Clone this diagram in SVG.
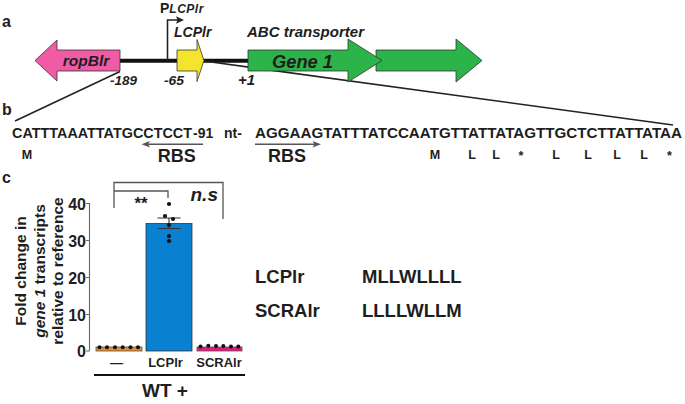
<svg xmlns="http://www.w3.org/2000/svg" width="685" height="404" viewBox="0 0 685 404">
<defs>
<style>
text{font-family:"Liberation Sans",Arial,sans-serif;fill:#1e1e1e;font-weight:bold}
.it{font-style:italic}
.gene{stroke:#333;stroke-width:0.8}
.thin{stroke:#222;stroke-width:1.6;fill:none}
.brk{stroke:#555;stroke-width:1.3;fill:none}
.ax{stroke:#666;stroke-width:1.1;fill:none}
.dot{fill:#111}
.rbs{stroke:#555;stroke-width:1.5;fill:none}
</style>
</defs>
<rect width="685" height="404" fill="#fff"/>

<!-- panel labels -->
<text x="2" y="27" font-size="16">a</text>
<text x="2" y="115" font-size="16">b</text>
<text x="2" y="183" font-size="16">c</text>

<!-- connectors / lines -->
<g id="connectors">
  <line x1="120" y1="60.8" x2="248" y2="60.8" stroke="#111" stroke-width="4"/>
  <path class="thin" d="M167.5,60.8 V20 H178"/>
  <polygon points="184,20 176,16.3 177.5,20 176,23.7" fill="#222"/>
  <line class="thin" x1="120" y1="71.5" x2="15" y2="121"/>
  <line class="thin" x1="204" y1="61" x2="673" y2="125"/>
  <path class="rbs" d="M203,144.3 H147"/>
  <polygon points="141.5,144.3 150,141 148,144.3 150,147.6" fill="#555"/>
  <path class="rbs" d="M255,144.3 H315"/>
  <polygon points="321,144.3 312.5,141 314.5,144.3 312.5,147.6" fill="#555"/>
</g>

<!-- panel a genes -->
<g id="ropBlr">
  <polygon class="gene" fill="#ef5ba4" points="120,50 57,50 57,40 35,60.5 57,81 57,71 120,71"/>
  <text class="it" x="86" y="65.5" font-size="15.5" text-anchor="middle">ropBlr</text>
</g>
<g id="promoter">
  <text x="160" y="12.5" font-size="14">P<tspan class="it" font-size="12" dy="0.5" textLength="34" lengthAdjust="spacing">LCPlr</tspan></text>
</g>
<g id="LCPlr">
  <polygon class="gene" fill="#f4e42e" points="177,50 197,50 197,39.5 204,60.5 197,81.5 197,71 177,71"/>
  <text class="it" x="174" y="36.5" font-size="14" textLength="37.5" lengthAdjust="spacingAndGlyphs">LCPlr</text>
</g>
<g id="gene2">
  <polygon class="gene" fill="#2cb34a" points="376,50 456,50 456,39 482,60.5 456,82 456,71 376,71"/>
</g>
<g id="gene1">
  <polygon class="gene" fill="#2cb34a" points="248,50 348,50 348,39 382,60.5 348,82 348,71 248,71"/>
  <text class="it" x="272" y="67.5" font-size="19" textLength="61" lengthAdjust="spacingAndGlyphs">Gene 1</text>
  <text class="it" x="247" y="36.5" font-size="14.5" textLength="117" lengthAdjust="spacingAndGlyphs">ABC transporter</text>
</g>
<g id="coords">
  <text class="it" x="110" y="85" font-size="13.5" textLength="27" lengthAdjust="spacingAndGlyphs">-189</text>
  <text class="it" x="164" y="85" font-size="13.5" textLength="20" lengthAdjust="spacingAndGlyphs">-65</text>
  <text class="it" x="238" y="85" font-size="14" textLength="17" lengthAdjust="spacingAndGlyphs">+1</text>
</g>

<!-- panel b sequence -->
<g id="sequence">
  <text x="12" y="138" font-size="14" textLength="180" lengthAdjust="spacingAndGlyphs">CATTTAAATTATGCCTCCT</text>
  <text x="193" y="137.5" font-size="14">-91 <tspan x="224">nt-</tspan></text>
  <text x="255" y="138" font-size="14.5" textLength="427" lengthAdjust="spacingAndGlyphs">AGGAAGTATTTATCCAATGTTATTATAGTTGCTCTTATTATAA</text>
</g>
<g id="rbs-left">
  <text x="176.7" y="161.7" font-size="18" text-anchor="middle">RBS</text>
</g>
<g id="rbs-right">
  <text x="287" y="161.7" font-size="18" text-anchor="middle">RBS</text>
</g>
<g id="aminoacids">
  <text x="27" y="159" font-size="12.5" text-anchor="middle">M</text>
  <text x="435" y="159" font-size="12.5" text-anchor="middle">M</text>
  <text x="472" y="159" font-size="12.5" text-anchor="middle">L</text>
  <text x="496" y="159" font-size="12.5" text-anchor="middle">L</text>
  <text x="521" y="160" font-size="12.5" text-anchor="middle">*</text>
  <text x="556" y="159" font-size="12.5" text-anchor="middle">L</text>
  <text x="588" y="159" font-size="12.5" text-anchor="middle">L</text>
  <text x="617" y="159" font-size="12.5" text-anchor="middle">L</text>
  <text x="644" y="159" font-size="12.5" text-anchor="middle">L</text>
  <text x="669.5" y="160" font-size="12.5" text-anchor="middle">*</text>
</g>

<!-- panel c chart -->
<g id="yaxis">
  <path class="ax" d="M89.5,203 V351 M86,203.5 H89.5 M86,240.5 H89.5 M86,277.5 H89.5 M86,314.5 H89.5 M86,351 H89.5"/>
  <text x="86" y="209.5" font-size="16" text-anchor="end">40</text>
  <text x="86" y="246.5" font-size="16" text-anchor="end">30</text>
  <text x="86" y="283.5" font-size="16" text-anchor="end">20</text>
  <text x="86" y="320.5" font-size="16" text-anchor="end">10</text>
  <text x="86" y="357" font-size="16" text-anchor="end">0</text>
  <g transform="translate(0,271) rotate(-90)">
    <text x="0" y="26" font-size="15.5" text-anchor="middle">Fold change in</text>
    <text x="0" y="44.5" font-size="15.5" text-anchor="middle"><tspan class="it">gene 1</tspan> transcripts</text>
    <text x="0" y="63" font-size="15.5" text-anchor="middle">relative to reference</text>
  </g>
</g>
<g id="bar-control">
  <rect x="96" y="347" width="46" height="4" fill="#e98d2b" stroke="#555" stroke-width="0.8"/>
  <circle class="dot" cx="99.5" cy="347.3" r="2"/>
  <circle class="dot" cx="107" cy="347.3" r="2"/>
  <circle class="dot" cx="115" cy="347.3" r="2"/>
  <circle class="dot" cx="122.7" cy="347.3" r="2"/>
  <circle class="dot" cx="130.5" cy="347.3" r="2"/>
  <circle class="dot" cx="138" cy="347.3" r="2"/>
  <text x="116.5" y="366.7" font-size="13" text-anchor="middle">—</text>
</g>
<g id="bar-LCPlr">
  <rect x="146" y="223.5" width="46" height="127.5" fill="#0a80d0" stroke="#333" stroke-width="0.8"/>
  <path d="M169,218 V228.5 M157.5,218 H180.5 M157.5,228.5 H180.5" stroke="#333" stroke-width="1.1" fill="none"/>
  <circle class="dot" cx="169" cy="204" r="2.1"/>
  <circle class="dot" cx="165" cy="216" r="2.1"/>
  <circle class="dot" cx="173" cy="219" r="2.1"/>
  <circle class="dot" cx="169" cy="225" r="2.1"/>
  <circle class="dot" cx="169" cy="236" r="2.1"/>
  <circle class="dot" cx="169" cy="241" r="2.1"/>
  <text x="165.5" y="366.7" font-size="13" text-anchor="middle">LCPlr</text>
</g>
<g id="bar-SCRAlr">
  <rect x="197" y="347" width="45" height="4" fill="#e8197d" stroke="#555" stroke-width="0.8"/>
  <circle class="dot" cx="200.5" cy="346.5" r="2"/>
  <circle class="dot" cx="208.3" cy="345.7" r="2"/>
  <circle class="dot" cx="216" cy="346" r="2"/>
  <circle class="dot" cx="223.3" cy="346" r="2"/>
  <circle class="dot" cx="231" cy="346.5" r="2"/>
  <circle class="dot" cx="238.3" cy="346.5" r="2"/>
  <text x="219" y="366.7" font-size="13" text-anchor="middle">SCRAlr</text>
</g>
<g id="significance">
  <path class="brk" d="M114,208 V182.5 H223 V219"/>
  <path class="brk" d="M114,191 H168 V198"/>
  <text x="141" y="208.5" font-size="17" text-anchor="middle">**</text>
  <text class="it" x="190.5" y="200.5" font-size="19">n.s</text>
</g>
<g id="wt">
  <line x1="94" y1="375" x2="245" y2="375" stroke="#111" stroke-width="2"/>
  <text x="165" y="396.7" font-size="19" text-anchor="middle">WT +</text>
</g>
<g id="legend">
  <text x="255" y="283" font-size="18.5">LCPlr</text>
  <text x="362" y="283" font-size="18.5">MLLWLLLL</text>
  <text x="255" y="317" font-size="18.5">SCRAlr</text>
  <text x="362" y="317" font-size="18.5">LLLLWLLM</text>
</g>
</svg>
